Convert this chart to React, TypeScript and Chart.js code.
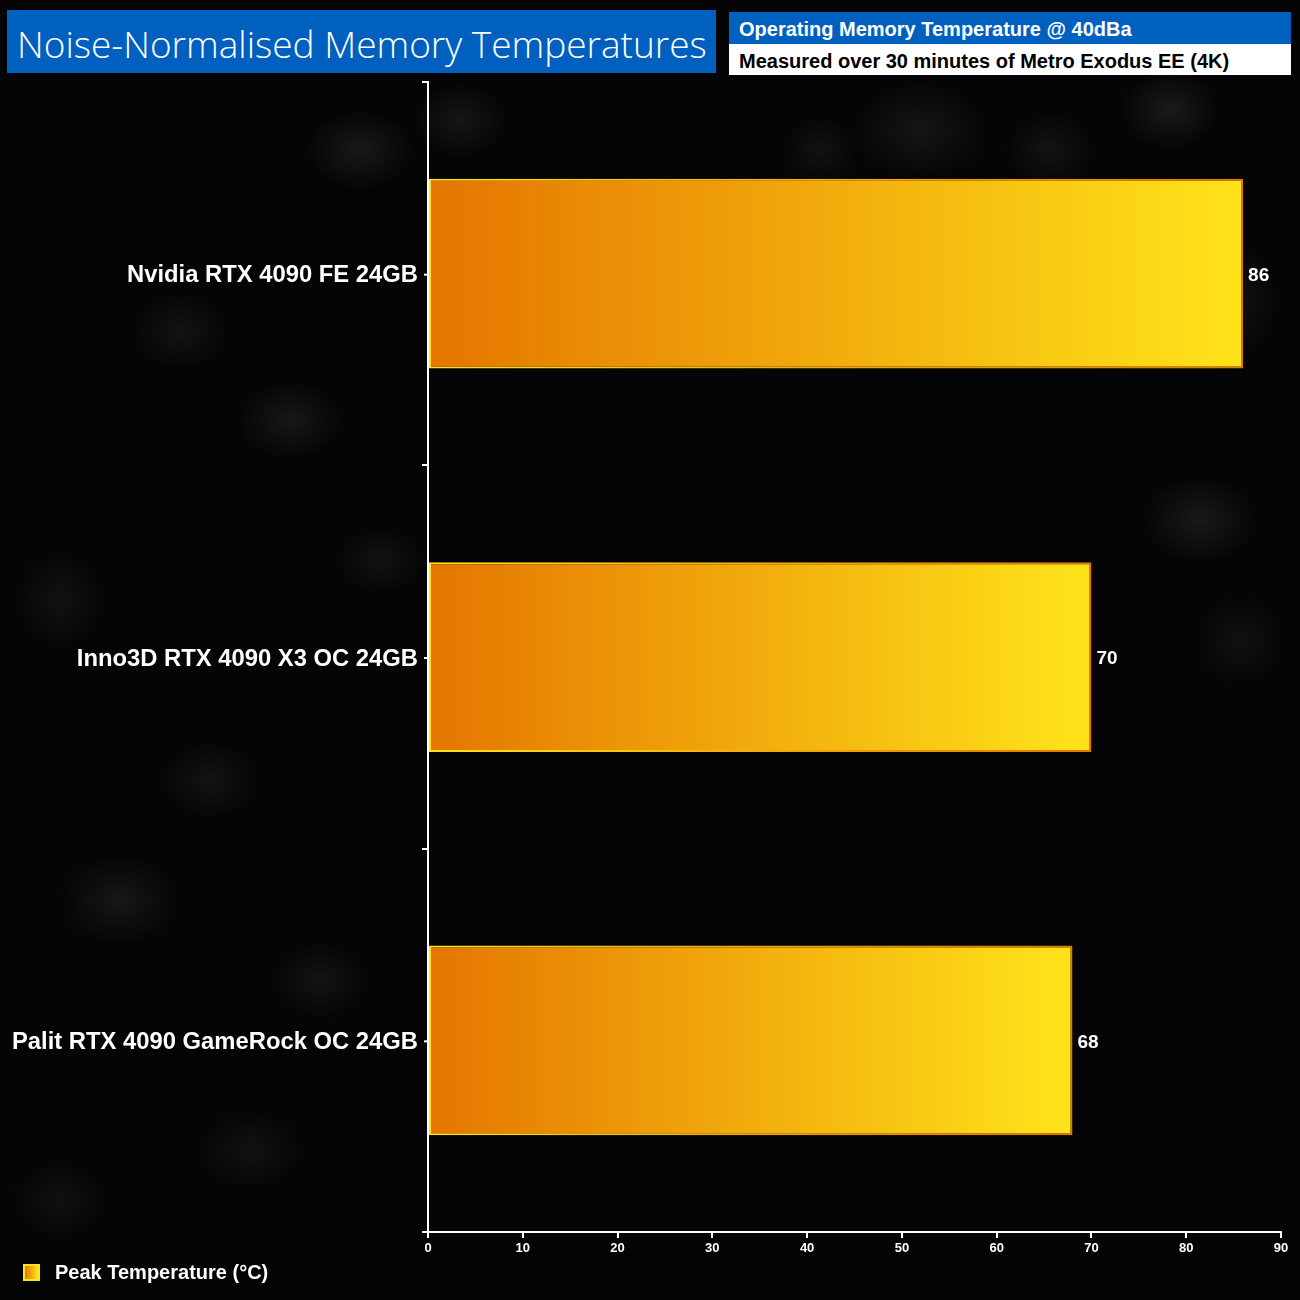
import React, { useEffect, useRef } from "react";
import { Chart, registerables } from "chart.js";

Chart.register(...registerables);

const categories = [
  "Nvidia RTX 4090 FE 24GB",
  "Inno3D RTX 4090 X3 OC 24GB",
  "Palit RTX 4090 GameRock OC 24GB",
];
const peakTemps = [86, 70, 68];
const seriesName = "Peak Temperature (°C)";
const xMin = 0;
const xMax = 90;
const xStep = 10;
const titleText = "Noise-Normalised Memory Temperatures";
const subtitleTop = "Operating Memory Temperature @ 40dBa";
const subtitleBottom = "Measured over 30 minutes of Metro Exodus EE (4K)";

const ORANGE = "#e57500";
const YELLOW = "#ffe41a";

function barGradient(ctx: any, reverse: boolean) {
  const chart = ctx.chart;
  if (!chart.chartArea || ctx.parsed == null) return reverse ? YELLOW : ORANGE;
  const xs = chart.scales.x;
  const x0 = xs.getPixelForValue(0);
  const x1 = xs.getPixelForValue(ctx.parsed.x);
  const g = chart.ctx.createLinearGradient(x0, 0, x1, 0);
  g.addColorStop(0, reverse ? YELLOW : ORANGE);
  g.addColorStop(1, reverse ? ORANGE : YELLOW);
  return g;
}

const valueLabelPlugin = {
  id: "valueLabels",
  afterDatasetsDraw(chart: any) {
    const ctx = chart.ctx;
    const meta = chart.getDatasetMeta(0);
    ctx.save();
    ctx.fillStyle = "#ffffff";
    ctx.font = "bold 19px 'Liberation Sans', Arial, sans-serif";
    ctx.textAlign = "left";
    ctx.textBaseline = "middle";
    meta.data.forEach((el: any, i: number) => {
      ctx.fillText(String(chart.data.datasets[0].data[i]), el.x + 5, el.y + 2);
    });
    // small ticks at category labels
    const ys = chart.scales.y;
    const ax = chart.chartArea.left;
    ctx.strokeStyle = "#ffffff";
    ctx.lineWidth = 2;
    categories.forEach((_, i) => {
      const y = ys.getPixelForValue(i) + 1;
      ctx.beginPath();
      ctx.moveTo(ax - 4, y);
      ctx.lineTo(ax, y);
      ctx.stroke();
    });
    ctx.restore();
  },
};

const blobs: [number, number, number, number, number][] = [
  [360, 150, 55, 40, 0.3], [460, 120, 50, 38, 0.25], [290, 420, 55, 40, 0.28],
  [180, 330, 50, 40, 0.22], [120, 900, 60, 45, 0.28], [60, 600, 45, 50, 0.2],
  [210, 780, 50, 40, 0.22], [320, 980, 50, 40, 0.22], [250, 1150, 55, 40, 0.2],
  [1170, 110, 50, 40, 0.32], [1200, 520, 60, 45, 0.3], [920, 130, 70, 50, 0.25],
  [1050, 150, 45, 40, 0.22], [1240, 640, 45, 45, 0.2], [820, 150, 40, 35, 0.2],
  [1240, 300, 40, 60, 0.18], [60, 1200, 50, 40, 0.18], [380, 560, 45, 35, 0.2],
];

export default function App() {
  const ref = useRef<HTMLCanvasElement | null>(null);

  useEffect(() => {
    if (!ref.current) return;
    const chart = new Chart(ref.current, {
      type: "bar",
      data: {
        labels: categories,
        datasets: [
          {
            label: seriesName,
            data: peakTemps,
            backgroundColor: (c: any) => barGradient(c, false),
            borderColor: (c: any) => barGradient(c, true),
            borderWidth: 2,
            borderSkipped: false,
            barPercentage: 0.495,
            categoryPercentage: 1,
          },
        ],
      },
      options: {
        indexAxis: "y",
        animation: false,
        responsive: false,
        maintainAspectRatio: false,
        devicePixelRatio: 1,
        layout: { padding: { left: 0, right: 19, top: 82, bottom: 0 } },
        plugins: {
          legend: { display: false },
          tooltip: { enabled: false },
          title: { display: false },
        },
        scales: {
          x: {
            type: "linear",
            position: "bottom",
            min: xMin,
            max: xMax,
            ticks: {
              stepSize: xStep,
              color: "#ffffff",
              font: { family: "'Liberation Sans Narrow', 'Liberation Sans', Arial, sans-serif", size: 13, weight: "bold" },
              padding: 3,
              maxRotation: 0,
            },
            grid: {
              drawOnChartArea: false,
              drawTicks: true,
              tickLength: 6,
              color: "#ffffff",
              lineWidth: 2,
            },
            border: { display: true, color: "#ffffff", width: 2 },
            afterFit: (s: any) => {
              s.height = 68;
            },
          },
          y: {
            type: "category",
            ticks: {
              color: "#ffffff",
              font: { family: "'Liberation Sans', Arial, sans-serif", size: 23.8, weight: "bold" },
              padding: 4,
              labelOffset: 2,
            },
            grid: {
              offset: true,
              drawOnChartArea: false,
              drawTicks: true,
              tickLength: 6,
              color: "#ffffff",
              lineWidth: 2,
            },
            border: { display: true, color: "#ffffff", width: 2 },
            afterFit: (s: any) => {
              s.width = 428;
            },
          },
        },
      },
      plugins: [valueLabelPlugin],
    } as any);
    return () => chart.destroy();
  }, []);

  const bg =
    blobs
      .map(([x, y, rx, ry, a]) => `radial-gradient(ellipse ${rx}px ${ry}px at ${x}px ${y}px, rgba(70,70,70,${a}), transparent)`)
      .join(",") + ",#050507";

  return (
    <div
      style={{
        position: "fixed",
        left: 0,
        top: 0,
        width: 1300,
        height: 1300,
        overflow: "hidden",
        background: bg,
        fontFamily: "'Liberation Sans', Arial, sans-serif",
      }}
    >
      <canvas ref={ref} width={1300} height={1300} style={{ position: "absolute", left: 0, top: 0, width: 1300, height: 1300 }} />
      <div
        style={{
          position: "absolute",
          left: 7,
          top: 10,
          width: 709,
          height: 63,
          background: "#0060c0",
          color: "#ffffff",
          fontFamily: "'Open Sans', 'Noto Sans', sans-serif",
          fontWeight: 300,
          fontSize: 37,
          lineHeight: "68px",
          paddingLeft: 10,
          boxSizing: "border-box",
          whiteSpace: "nowrap",
          overflow: "hidden",
        }}
      >
        {titleText}
      </div>
      <div
        style={{
          position: "absolute",
          left: 729,
          top: 12,
          width: 562,
          height: 32,
          background: "#0060c0",
          color: "#ffffff",
          fontWeight: "bold",
          fontSize: 20,
          lineHeight: "35px",
          paddingLeft: 10,
          boxSizing: "border-box",
          whiteSpace: "nowrap",
          overflow: "hidden",
        }}
      >
        {subtitleTop}
      </div>
      <div
        style={{
          position: "absolute",
          left: 729,
          top: 44,
          width: 562,
          height: 31,
          background: "#ffffff",
          color: "#000000",
          fontWeight: "bold",
          fontSize: 20,
          lineHeight: "34px",
          paddingLeft: 10,
          boxSizing: "border-box",
          whiteSpace: "nowrap",
          overflow: "hidden",
        }}
      >
        {subtitleBottom}
      </div>
      <div
        style={{
          position: "absolute",
          left: 23,
          top: 1264,
          width: 13,
          height: 13,
          background: `linear-gradient(to right, ${ORANGE}, ${YELLOW})`,
          border: `2px solid ${YELLOW}`,
        }}
      />
      <div
        style={{
          position: "absolute",
          left: 55,
          top: 1259,
          color: "#ffffff",
          fontWeight: "bold",
          fontSize: 20,
          lineHeight: "26px",
          whiteSpace: "nowrap",
        }}
      >
        {seriesName}
      </div>
    </div>
  );
}
